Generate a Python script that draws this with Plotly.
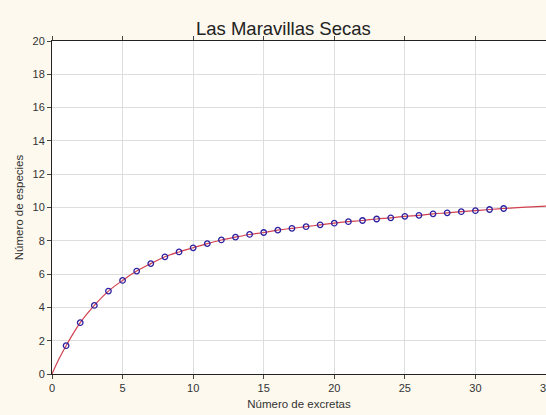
import plotly.graph_objects as go

# Observed species accumulation: number of droppings sampled vs species count
excretas = list(range(1, 33))
especies = [1.70, 3.08, 4.12, 4.98, 5.62, 6.18, 6.63, 7.04, 7.33, 7.58,
            7.83, 8.05, 8.22, 8.38, 8.50, 8.64, 8.75, 8.85, 8.96, 9.06,
            9.15, 9.22, 9.31, 9.38, 9.47, 9.53, 9.62, 9.68, 9.75, 9.81,
            9.88, 9.94]

# Fitted accumulation curve
curva_x = [0, 0.5] + list(range(1, 36))
curva_y = [0.0, 0.91] + especies + [9.99, 10.04, 10.08]

x_ticks = [0, 5, 10, 15, 20, 25, 30, 35]
y_ticks = [0, 2, 4, 6, 8, 10, 12, 14, 16, 18, 20]

FONT = "Liberation Sans"
TEXT = "#333333"

fig = go.Figure()
fig.add_trace(go.Scatter(
    x=curva_x, y=curva_y, mode="lines", line_shape="spline",
    line=dict(color="#d2404f", width=1.2), hoverinfo="skip", showlegend=False))
fig.add_trace(go.Scatter(
    x=excretas, y=especies, mode="markers",
    marker=dict(symbol="circle-open", size=5.5, color="#2c20a0",
                line=dict(width=1.3, color="#2c20a0")),
    showlegend=False))

axis_common = dict(
    showline=True, linecolor="#222222", linewidth=1, mirror="ticks",
    showgrid=True, gridcolor="#dedede", gridwidth=1,
    ticks="outside", ticklen=4, tickcolor="#444444",
    zeroline=False, tickfont=dict(family=FONT, size=11, color=TEXT),
    ticklabeloverflow="allow", automargin=False,
)

fig.update_xaxes(range=[0, 35], tickvals=x_ticks,
                 title=dict(text="Número de excretas", standoff=6,
                            font=dict(family=FONT, size=11.5, color=TEXT)),
                 **axis_common)
fig.update_yaxes(range=[0, 20], tickvals=y_ticks,
                 title=dict(text="Número de especies", standoff=6,
                            font=dict(family=FONT, size=11.5, color=TEXT)),
                 **axis_common)

fig.update_layout(
    width=546, height=415,
    margin=dict(l=52, r=0, t=41, b=41),
    paper_bgcolor="#fdf9ee", plot_bgcolor="#ffffff",
    title=dict(text="Las Maravillas Secas", x=0.519, xanchor="center",
               y=0.932, yanchor="middle",
               font=dict(family=FONT, size=18.5, color="#222222")),
)

fig.write_html("out.html")
